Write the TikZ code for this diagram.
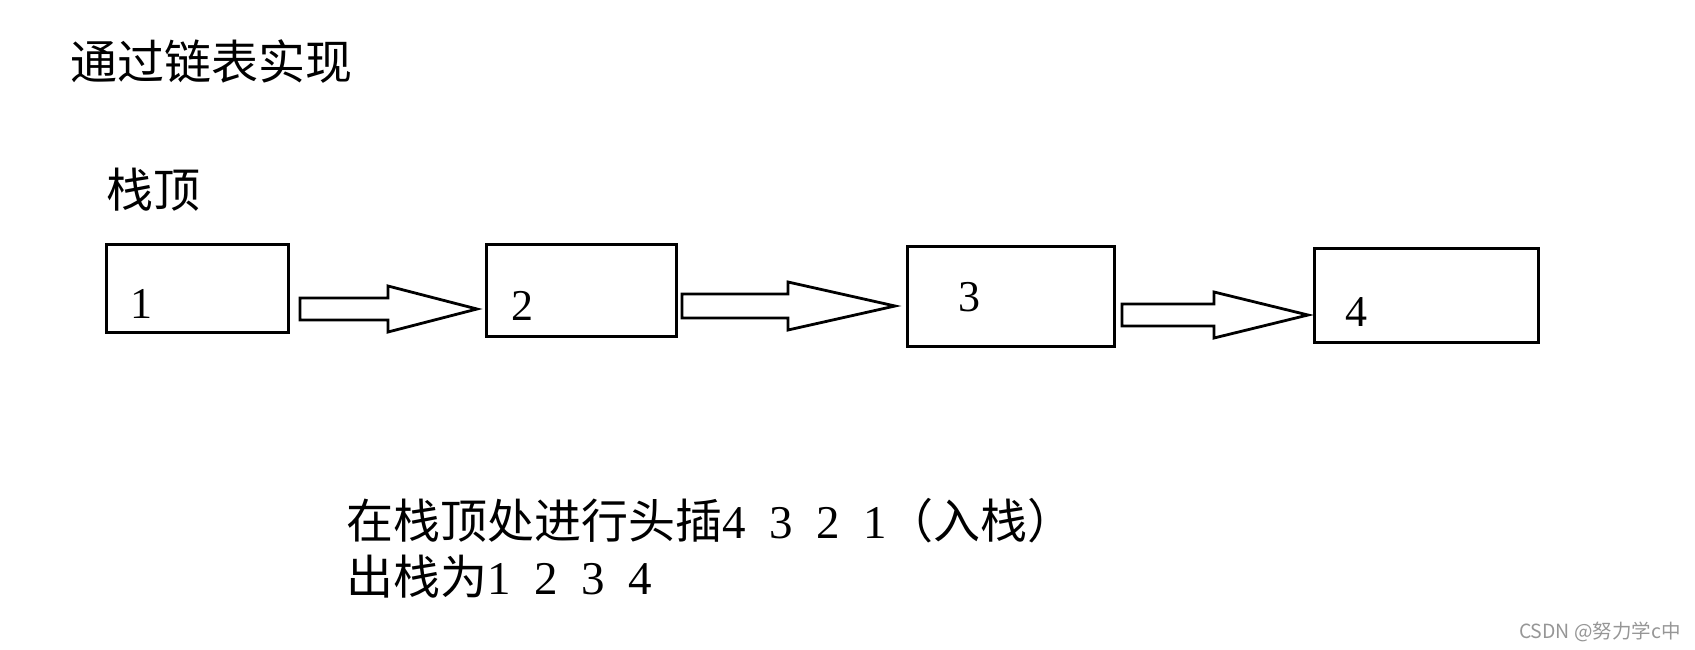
\documentclass[tikz,border=0pt]{standalone}
\usepackage{fontspec}
\setmainfont{Liberation Serif}
\newfontfamily\cjk{Noto Sans CJK SC}
\newcommand\hw[1]{\makebox[0.5em]{#1}}
\definecolor{wm}{RGB}{150,150,150}
\tikzset{
  cell/.style={draw, line width=3pt, rectangle, inner sep=0pt},
  digit/.style={anchor=base, inner sep=0pt, font=\fontsize{44}{50}\selectfont},
  txt/.style={anchor=base west, inner sep=0pt, font=\cjk\fontsize{47}{56}\selectfont},
  blockarrow/.style={draw, line width=2.8pt, line join=miter, fill=white}
}
\begin{document}
\begin{tikzpicture}[x=1pt,y=-1pt]
\useasboundingbox (0,0) rectangle (1695,649);
\node[txt] (title) at (70,79) {通过链表实现};
\node[txt] (top) at (106,207) {栈顶};
% cells
\node[cell, minimum width=182pt, minimum height=88pt] (b1) at (197,288) {};
\node[cell, minimum width=190pt, minimum height=92pt] (b2) at (581,290) {};
\node[cell, minimum width=207pt, minimum height=100pt] (b3) at (1010.5,296) {};
\node[cell, minimum width=224pt, minimum height=94pt] (b4) at (1426,295) {};
\node[digit] (d1) at (141,318) {1};
\node[digit] (d2) at (522,320) {2};
\node[digit] (d3) at (969,311) {3};
\node[digit] (d4) at (1356,326) {4};
% block arrows
\draw[blockarrow] (300,298) -- (388,298) -- (388,286) -- (477,309) -- (388,332) -- (388,320) -- (300,320) -- cycle;
\draw[blockarrow] (682,294) -- (788,294) -- (788,282) -- (895,306) -- (788,330) -- (788,318) -- (682,318) -- cycle;
\draw[blockarrow] (1122,304) -- (1214,304) -- (1214,292) -- (1308,315) -- (1214,338) -- (1214,326) -- (1122,326) -- cycle;
% bottom text
\node[txt] (l1) at (346,538) {在栈顶处进行头插{\rmfamily\hw{4}\hw{ }\hw{3}\hw{ }\hw{2}\hw{ }\hw{1}}（入栈）};
\node[txt] (l2) at (346,594) {出栈为{\rmfamily\hw{1}\hw{ }\hw{2}\hw{ }\hw{3}\hw{ }\hw{4}}};
\node[anchor=base east, inner sep=0pt, text=wm, font=\cjk\fontsize{19.5}{22}\selectfont] (wmk) at (1681,638) {CSDN @努力学c中};
\end{tikzpicture}
\end{document}
